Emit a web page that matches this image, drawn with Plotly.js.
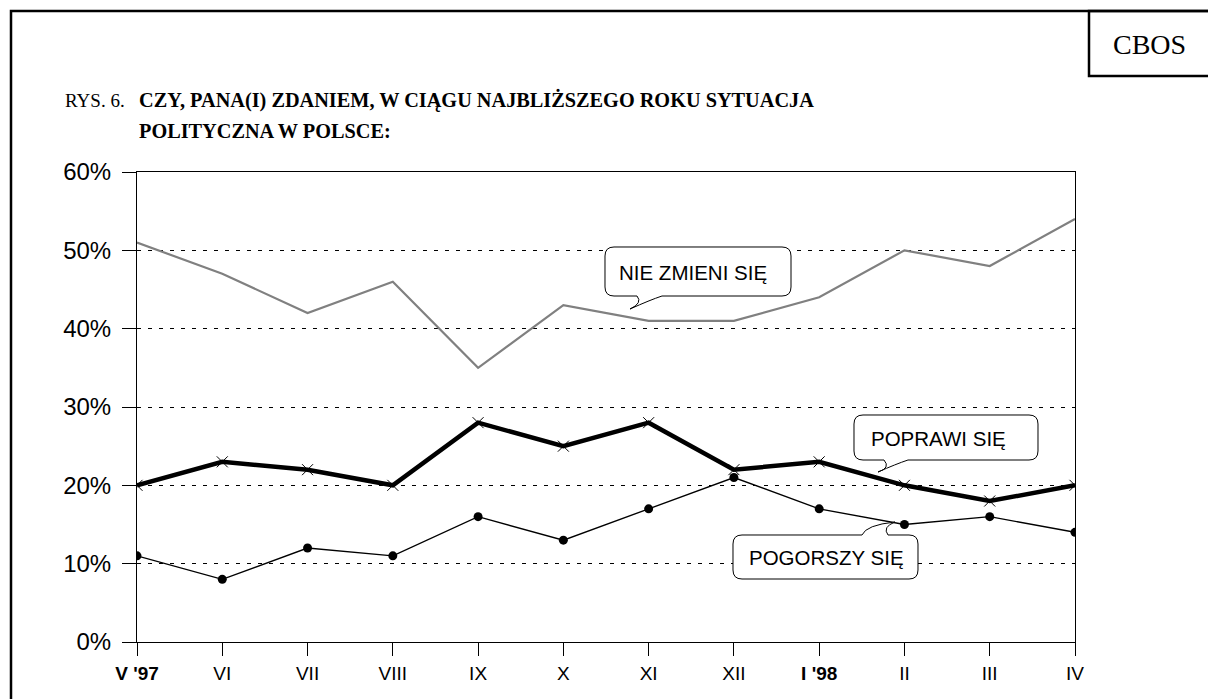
<!DOCTYPE html>
<html>
<head>
<meta charset="utf-8">
<script src="https://cdn.plot.ly/plotly-3.0.1.min.js"></script>
<style>html,body{margin:0;padding:0;background:#fff;}#chart{width:1208px;height:699px;}</style>
</head>
<body>
<div id="chart"></div>
<script>
// ---- data ----
const months = ["<b>V '97</b>", "VI", "VII", "VIII", "IX", "X", "XI", "XII", "<b>I '98</b>", "II", "III", "IV"];
const nieZmieniSie = [51, 47, 42, 46, 35, 43, 41, 41, 44, 50, 48, 54];
const poprawiSie   = [20, 23, 22, 20, 28, 25, 28, 22, 23, 20, 18, 20];
const pogorszySie  = [11, 8, 12, 11, 16, 13, 17, 21, 17, 15, 16, 14];
const yTicks = [0, 10, 20, 30, 40, 50, 60];
const seriesNames = ["NIE ZMIENI SIĘ", "POPRAWI SIĘ", "POGORSZY SIĘ"];

// ---- layout helpers (pixel -> paper) ----
const W = 1208, H = 699;
const L = 137, R = 1075, T = 172, B = 642;
const px = x => (x - L) / (R - L);
const py = y => (B - y) / (B - T);

function bubble(x0, y0, x1, y1, r, tail) {
  const P = (x, y) => px(x).toFixed(5) + ',' + py(y).toFixed(5);
  let d = 'M' + P(x0 + r, y0);
  if (tail.side === 'top') {
    d += ' L' + P(tail.a, y0) + ' Q' + P(tail.c1[0], tail.c1[1]) + ' ' + P(tail.tip[0], tail.tip[1]) +
         ' Q' + P(tail.c2[0], tail.c2[1]) + ' ' + P(tail.b, y0);
  }
  d += ' L' + P(x1 - r, y0) + ' Q' + P(x1, y0) + ' ' + P(x1, y0 + r);
  d += ' L' + P(x1, y1 - r) + ' Q' + P(x1, y1) + ' ' + P(x1 - r, y1);
  if (tail.side === 'bottom') {
    d += ' L' + P(tail.b, y1) + ' Q' + P(tail.c2[0], tail.c2[1]) + ' ' + P(tail.tip[0], tail.tip[1]) +
         ' Q' + P(tail.c1[0], tail.c1[1]) + ' ' + P(tail.a, y1);
  }
  d += ' L' + P(x0 + r, y1) + ' Q' + P(x0, y1) + ' ' + P(x0, y1 - r);
  d += ' L' + P(x0, y0 + r) + ' Q' + P(x0, y0) + ' ' + P(x0 + r, y0) + ' Z';
  return {type: 'path', xref: 'paper', yref: 'paper', path: d, layer: 'above',
          fillcolor: '#ffffff', line: {color: '#000000', width: 1}};
}

const idx = months.map((_, i) => i);

const traces = [
  {x: idx, y: nieZmieniSie, name: seriesNames[0], type: 'scatter', mode: 'lines',
   line: {color: '#808080', width: 2.2}},
  {x: idx, y: pogorszySie, name: seriesNames[2], type: 'scatter', mode: 'lines+markers',
   line: {color: '#000000', width: 1.4},
   marker: {symbol: 'circle', size: 9, color: '#000000'}},
  {x: idx, y: poprawiSie, name: seriesNames[1], type: 'scatter', mode: 'lines+markers',
   line: {color: '#000000', width: 4.5},
   marker: {symbol: 'x-thin-open', size: 11, color: '#000000', line: {color: '#000000', width: 1}}}
];

const shapes = [
  {type: 'rect', xref: 'paper', yref: 'paper', x0: px(11), x1: px(1215), y0: py(11), y1: py(710),
   line: {color: '#000', width: 2.5}, layer: 'below'},
  {type: 'rect', xref: 'paper', yref: 'paper', x0: px(1089), x1: px(1215), y0: py(11), y1: py(76),
   line: {color: '#000', width: 2.5}, layer: 'below'},
  bubble(605, 247, 791, 296, 9, {side: 'bottom', a: 637, b: 662, tip: [630, 309], c1: [643, 303], c2: [650, 300]}),
  bubble(854, 415, 1038, 460, 9, {side: 'bottom', a: 884, b: 908, tip: [878, 472], c1: [891, 468], c2: [896, 464]}),
  bubble(733, 535, 918, 579, 9, {side: 'top', a: 862, b: 888, tip: [895, 522], c1: [866, 525], c2: [882, 527]})
];

const annFontT = {family: 'Liberation Serif, Times New Roman, serif', color: '#000'};
const annFontA = {family: 'Liberation Sans, Arial, sans-serif', color: '#000', size: 20.5};
const annotations = [
  {xref: 'paper', yref: 'paper', x: px(1149), y: py(44), text: 'CBOS', showarrow: false,
   xanchor: 'center', yanchor: 'middle', font: Object.assign({size: 28}, annFontT)},
  {xref: 'paper', yref: 'paper', x: px(63), y: py(100), text: 'RYS. 6.', showarrow: false,
   xanchor: 'left', yanchor: 'middle', font: Object.assign({size: 19}, annFontT)},
  {xref: 'paper', yref: 'paper', x: px(137), y: py(100), text: '<b>CZY, PANA(I) ZDANIEM, W CIĄGU NAJBLIŻSZEGO ROKU SYTUACJA</b>',
   showarrow: false, xanchor: 'left', yanchor: 'middle', font: Object.assign({size: 20.3}, annFontT)},
  {xref: 'paper', yref: 'paper', x: px(137), y: py(131), text: '<b>POLITYCZNA W POLSCE:</b>',
   showarrow: false, xanchor: 'left', yanchor: 'middle', font: Object.assign({size: 20.3}, annFontT)},
  {xref: 'paper', yref: 'paper', x: px(693), y: py(272), text: seriesNames[0], showarrow: false,
   xanchor: 'center', yanchor: 'middle', font: annFontA},
  {xref: 'paper', yref: 'paper', x: px(938), y: py(438), text: seriesNames[1], showarrow: false,
   xanchor: 'center', yanchor: 'middle', font: annFontA},
  {xref: 'paper', yref: 'paper', x: px(826), y: py(557), text: seriesNames[2], showarrow: false,
   xanchor: 'center', yanchor: 'middle', font: annFontA}
];

const layout = {
  width: W, height: H,
  margin: {l: L, r: W - R, t: T, b: H - B, pad: 0},
  paper_bgcolor: '#fff', plot_bgcolor: '#fff',
  showlegend: false,
  xaxis: {
    range: [0, 11], tickmode: 'array', tickvals: idx, ticktext: months,
    showgrid: false, zeroline: false,
    showline: true, mirror: true, linecolor: '#000', linewidth: 1,
    ticks: 'outside', ticklen: 13, tickcolor: '#000', tickwidth: 1,
    ticklabelstandoff: 1,
    tickfont: {family: 'Liberation Sans, Arial, sans-serif', size: 19, color: '#000'}
  },
  yaxis: {
    range: [0, 60], tickmode: 'array', tickvals: yTicks, ticktext: yTicks.map(v => v + '%'),
    showgrid: true, gridcolor: '#000', gridwidth: 1, griddash: '4px,7px',
    zeroline: false,
    showline: true, mirror: true, linecolor: '#000', linewidth: 1,
    ticks: 'outside', ticklen: 14, tickcolor: '#000', tickwidth: 1,
    ticklabelstandoff: 6,
    tickfont: {family: 'Liberation Sans, Arial, sans-serif', size: 24, color: '#000'}
  },
  shapes: shapes,
  annotations: annotations
};

Plotly.newPlot('chart', traces, layout, {displayModeBar: false, staticPlot: true});
</script>
</body>
</html>
